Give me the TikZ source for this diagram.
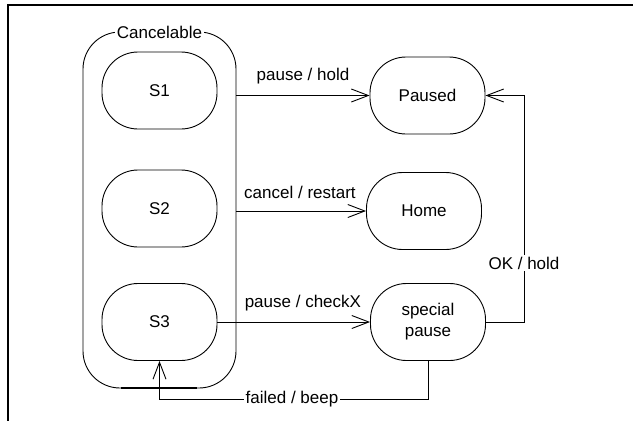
\documentclass[tikz,border=0pt]{standalone}
\usepackage{fontspec}
\setmainfont{Liberation Sans}
\usetikzlibrary{arrows.meta}
\begin{document}
\begin{tikzpicture}[x=1pt,y=-1pt,
  font=\fontsize{17}{21}\selectfont,
  state/.style={draw, line width=0.9pt, rounded corners=36pt, minimum width=115pt, minimum height=77pt, inner sep=0pt, align=center},
  container/.style={draw, line width=0.9pt, rounded corners=37pt, minimum width=153pt, minimum height=356pt, inner sep=0pt},
  arr/.style={draw, line width=0.9pt, -{Straight Barb[length=17pt, width=13pt, line width=0.9pt]}},
  conn/.style={draw, line width=0.9pt},
  lbl/.style={inner sep=1.5pt},
  wlbl/.style={fill=white, inner sep=1.5pt}]
\useasboundingbox (0,0) rectangle (633,421);
% frame
\draw[line width=2.2pt] (8,421) -- (8,5) -- (633,5);
% container
\node[container] (cancel) at (159.5,210) {};
\node[wlbl] (cancell) at (159.5,32) {Cancelable};
\draw[line width=2pt] (121,388) -- (197,388);
% states
\node[state] (S1) at (159.5,90.5) {S1};
\node[state] (S2) at (159.5,208.5) {S2};
\node[state] (S3) at (159.5,322) {S3};
\node[state] (P) at (427.5,95.5) {Paused};
\node[state] (H) at (424,211) {Home};
\node[state] (SP) at (428,322) {special\\pause};
\coordinate (okx) at (524,0);
\coordinate (fby) at (0,399);
% transitions
\draw[arr] (cancel.east |- P.west) -- node[lbl, yshift=19pt] (l1) {pause / hold} (P.west);
\draw[arr] (cancel.east |- H.west) -- node[lbl, pos=0.49, yshift=19pt] (l2) {cancel / restart} (H.west);
\draw[arr] (S3.east) -- node[lbl, pos=0.56, yshift=19pt] (l3) {pause / checkX} (SP.west);
\draw[arr] (SP.east) -- (SP.east -| okx) |- (P.east);
\node[wlbl] (l4) at (524,263) {OK / hold};
\draw[arr] (SP.south) |- (fby -| S3.south) -- (S3.south);
\node[wlbl] (l5) at (292,399) {failed / beep};
\end{tikzpicture}
\end{document}
